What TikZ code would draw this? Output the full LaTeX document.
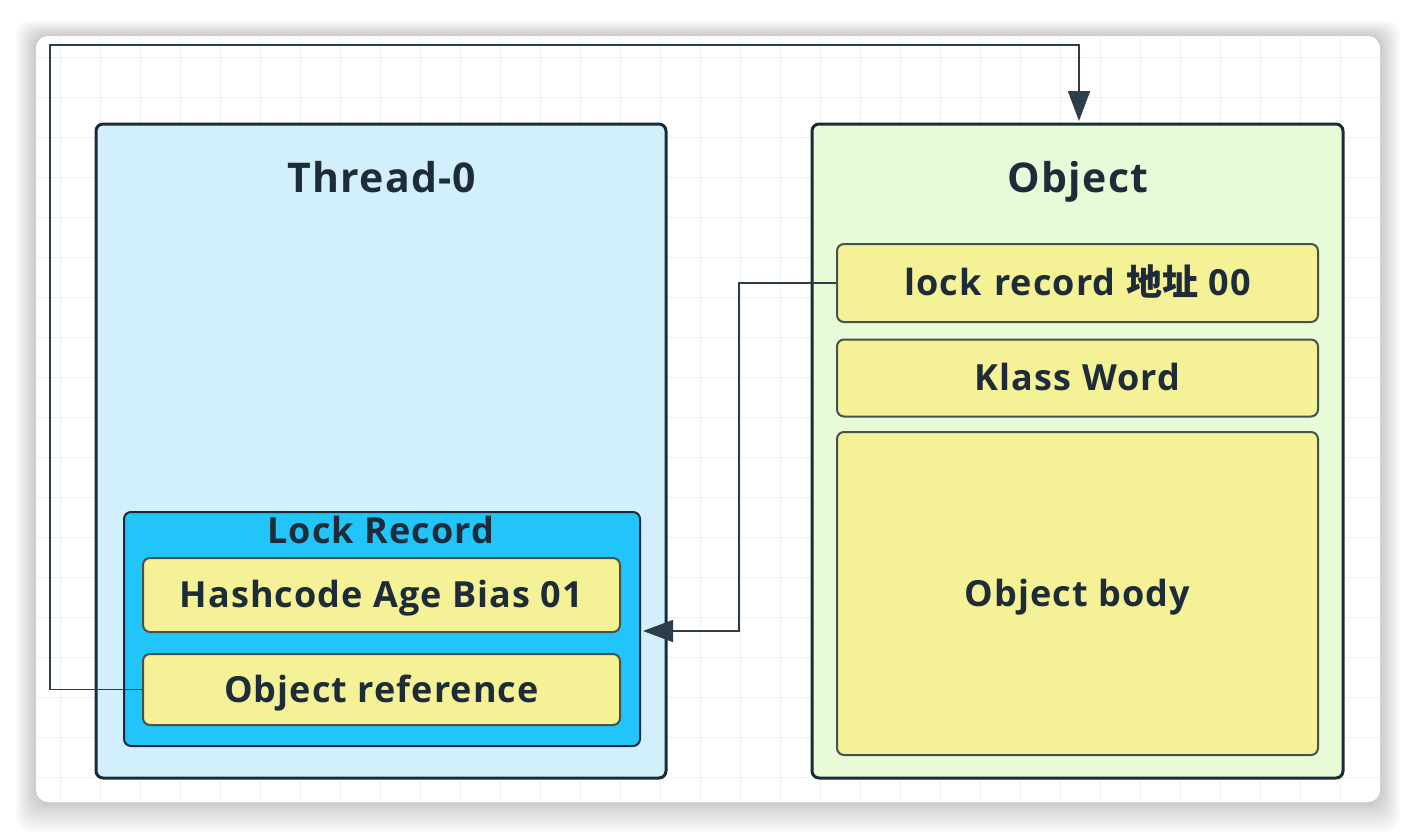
\documentclass[tikz,border=0pt]{standalone}
\usepackage{fontspec}
\setmainfont{Open Sans}[LetterSpace=3]
\newfontfamily\cjk{Noto Sans CJK SC}
\usetikzlibrary{arrows.meta,calc}
\definecolor{bordc}{HTML}{1B2A38}
\definecolor{txtc}{HTML}{1E2B38}
\definecolor{threadfill}{HTML}{D2F0FC}
\definecolor{lockfill}{HTML}{22C5FA}
\definecolor{yel}{HTML}{F4F197}
\definecolor{objfill}{HTML}{E8FBD9}
\definecolor{gridc}{HTML}{EEF1F4}
\definecolor{connc}{HTML}{2E3D4C}
\tikzset{
  outerbox/.style={draw=bordc,line width=3pt,rounded corners=7pt,inner sep=0pt},
  lockbox/.style={draw=bordc,line width=2pt,fill=lockfill,rounded corners=7pt,inner sep=0pt},
  fieldbox/.style={draw=bordc!80!yel,line width=2pt,fill=yel,rounded corners=7pt,inner sep=0pt,
     text=txtc,font=\fontsize{36}{43}\selectfont\bfseries,text height=25pt,text depth=0pt,align=center},
  titletxt/.style={text=txtc,font=\fontsize{41}{49}\selectfont\bfseries,inner sep=0pt,anchor=base},
  subtitletxt/.style={text=txtc,font=\fontsize{36}{43}\selectfont\bfseries,inner sep=0pt,anchor=base},
  conn/.style={draw=connc,line width=1.8pt},
  tip/.style={-{Triangle[length=30pt,width=22pt]}}
}
\begin{document}
\begin{tikzpicture}[x=1pt,y=-1pt]
\useasboundingbox (0,0) rectangle (1416,838);
% page background and shadow
\fill[white] (0,0) rectangle (1416,838);
\foreach \k in {1,...,10}{
  \fill[black,opacity=0.018,rounded corners=14pt] ($(36,36)+(-\k*2,-\k*1.5)$) rectangle ($(1380,802)+(\k*2,\k*3)$);
}
\fill[white,rounded corners=12pt] (36,36) rectangle (1380,802);
\begin{scope}
  \clip[rounded corners=12pt] (36,36) rectangle (1380,802);
  \foreach \x in {60,100,...,1380}{ \draw[gridc,line width=1pt] (\x,36) -- (\x,802); }
  \foreach \y in {57,97,...,802}{ \draw[gridc,line width=1pt] (36,\y) -- (1380,\y); }
\end{scope}

% Thread-0
\node[outerbox,fill=threadfill,minimum width=570pt,minimum height=654pt] (thread) at (381,451) {};
\node[titletxt] (threadtitle) at (382,192) {Thread-0};
\node[lockbox,minimum width=516pt,minimum height=234pt] (lockrec) at (382,629) {};
\node[subtitletxt] (locktitle) at (381,543) {Lock Record};
\node[fieldbox,minimum width=477pt,minimum height=74pt] (hash) at (381.5,595) {Hashcode Age Bias 01};
\node[fieldbox,minimum width=477pt,minimum height=71pt] (objref) at (381.5,689.5) {Object reference};

% Object
\node[outerbox,fill=objfill,minimum width=531pt,minimum height=654pt] (object) at (1077.5,451) {};
\node[titletxt] (objtitle) at (1078,192) {Object};
\node[fieldbox,minimum width=481pt,minimum height=78pt] (lr) at (1077.5,283) {lock\hspace{0.35em}record {\cjk\bfseries 地址} 00};
\node[fieldbox,minimum width=481pt,minimum height=77pt] (klass) at (1077.5,378) {Klass Word};
\node[fieldbox,minimum width=481pt,minimum height=323pt] (body) at (1077.5,593.5) {Object body};

% connectors
\coordinate (c1) at (50,45);
\coordinate (c2) at (739,631);
\draw[conn,tip] (objref.west) -| (c1) -| ($(object.north)+(1.5,-1.5)$);
\draw[conn,tip] (lr.west) -| (c2) -- ($(lockrec.east |- c2)+(2,0)$);
\end{tikzpicture}
\end{document}
